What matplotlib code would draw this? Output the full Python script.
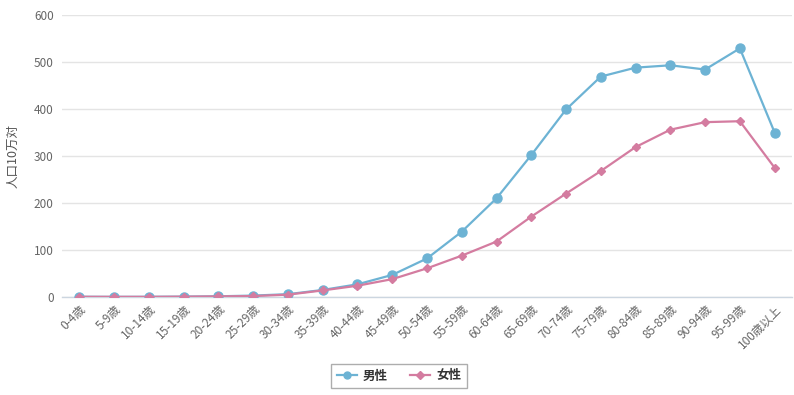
import matplotlib
matplotlib.use("Agg")
import matplotlib.pyplot as plt
from matplotlib.lines import Line2D

plt.rcParams['font.family'] = ['Noto Sans CJK JP', 'DejaVu Sans']

categories = ["0-4歳", "5-9歳", "10-14歳", "15-19歳", "20-24歳", "25-29歳", "30-34歳",
              "35-39歳", "40-44歳", "45-49歳", "50-54歳", "55-59歳", "60-64歳", "65-69歳",
              "70-74歳", "75-79歳", "80-84歳", "85-89歳", "90-94歳", "95-99歳", "100歳以上"]
male = [0.5, 0.3, 0.4, 0.8, 1.5, 3, 6, 15, 27, 47, 82, 139, 210, 302,
        399, 469, 488, 493, 484, 529, 350]
female = [0.4, 0.3, 0.3, 0.7, 1.3, 2, 5, 14, 24, 38, 61, 88, 118, 171,
          220, 268, 319, 356, 372, 374, 275]
yticks = [0, 100, 200, 300, 400, 500, 600]

male_color = "#6db3d4"
female_color = "#d47ca0"

fig = plt.figure(figsize=(7.94, 3.95), dpi=100)
ax = fig.add_axes([62/794, 1 - 297/395, (792-62)/794, (297-15)/395])

x = list(range(len(categories)))
ax.plot(x, male, color=male_color, lw=1.6, marker='o', ms=6.5, zorder=3)
ax.plot(x, female, color=female_color, lw=1.6, marker='D', ms=4.5, zorder=4)

ax.set_xlim(-0.5, len(categories) - 0.5)
ax.set_ylim(0, 600)
ax.set_yticks(yticks)
ax.set_yticklabels([str(v) for v in yticks], color="#666666", fontsize=8.5)
ax.set_xticks(x)
ax.set_xticklabels(categories, rotation=45, ha='right', rotation_mode='anchor',
                   color="#666666", fontsize=8.5)
ax.tick_params(axis='both', length=0, pad=6)
ax.tick_params(axis='x', pad=4)
ax.grid(axis='y', color="#e4e4e4", lw=1)
ax.set_axisbelow(True)
for s in ['top', 'right', 'left']:
    ax.spines[s].set_visible(False)
ax.spines['bottom'].set_color("#ccd6e0")
ax.spines['bottom'].set_linewidth(1)

ax.set_ylabel("人口10万対", color="#555555", fontsize=9)
ax.yaxis.set_label_coords(-0.058, 0.5)

handles = [Line2D([0], [0], color=male_color, lw=1.6, marker='o', ms=5),
           Line2D([0], [0], color=female_color, lw=1.6, marker='D', ms=4)]
leg = fig.legend(handles, ["男性", "女性"], loc='center', bbox_to_anchor=(399/794, 1 - 376/395),
                 ncol=2, frameon=True, fancybox=False, edgecolor="#999999",
                 prop={'size': 9, 'weight': 'bold'}, handlelength=1.6, columnspacing=1.8,
                 handletextpad=0.5, borderpad=0.45, borderaxespad=0)
leg.get_frame().set_linewidth(1)
for t in leg.get_texts():
    t.set_color("#333333")

fig.savefig("out.png", dpi=100)
